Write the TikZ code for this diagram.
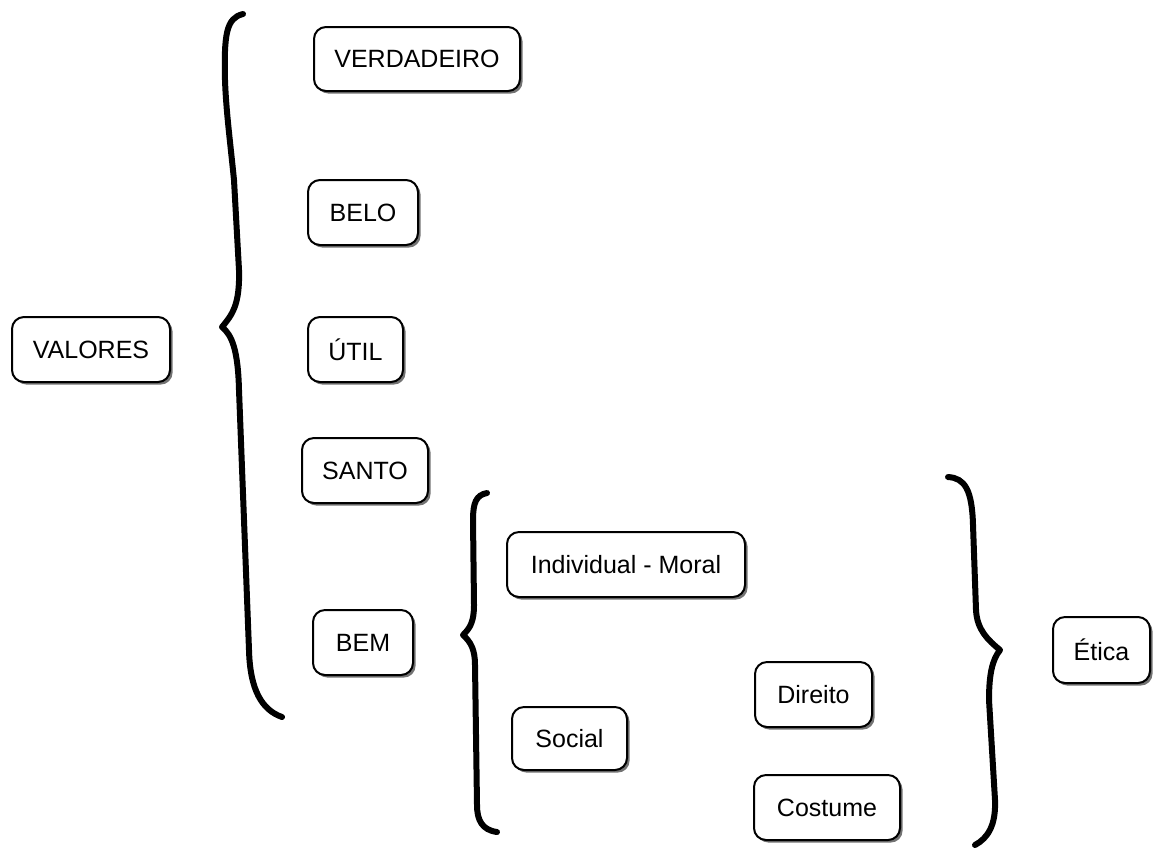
\documentclass[tikz,border=0pt]{standalone}
\usepackage{fontspec}
\setmainfont{Liberation Sans}
\usetikzlibrary{shadows}
\begin{document}
\begin{tikzpicture}[x=0.5pt,y=-0.5pt,
  box/.style={draw=black, line width=1pt, rounded corners=6pt, fill=white,
    inner sep=0pt, font=\fontsize{12.5}{15}\selectfont,
    drop shadow={shadow xshift=1.3pt, shadow yshift=-1.3pt, fill=black, opacity=0.55}},
  brace/.style={line width=3pt, line cap=round, line join=round}]
\useasboundingbox[fill=white] (0,0) rectangle (1155,848);

\node[box, minimum width=79pt, minimum height=32.5pt] (valores) at (91,349.5) {VALORES};
\node[box, minimum width=103pt, minimum height=32pt] (verdadeiro) at (417,59) {VERDADEIRO};
\node[box, minimum width=55pt, minimum height=32.5pt] (belo) at (363,212.5) {BELO};
\node[box, minimum width=47.5pt, minimum height=32.5pt] (util) at (355.5,349.5) {ÚTIL};
\node[box, minimum width=63pt, minimum height=32.5pt] (santo) at (365,470.5) {SANTO};
\node[box, minimum width=50pt, minimum height=32.5pt] (bem) at (363,642.5) {BEM};
\node[box, minimum width=119pt, minimum height=32.5pt] (individual) at (626,564.5) {Individual - Moral};
\node[box, minimum width=57.5pt, minimum height=31.5pt] (social) at (569.5,738.5) {Social};
\node[box, minimum width=58.5pt, minimum height=32.5pt] (direito) at (813.5,694.5) {Direito};
\node[box, minimum width=73pt, minimum height=32.5pt] (costume) at (827,807.5) {Costume};
\node[box, minimum width=48.5pt, minimum height=33pt] (etica) at (1101.5,650) {Ética};

% big left brace
\draw[brace] (243,14) .. controls (226,18) and (224,35) .. (225,80)
  .. controls (226,110) and (230,140) .. (234,180)
  -- (239,270)
  .. controls (240,305) and (232,315) .. (222,327)
  .. controls (232,335) and (238,350) .. (239,390)
  -- (249,650)
  .. controls (250,690) and (262,710) .. (282,717);

% middle brace
\draw[brace] (487,493) .. controls (476,495) and (473,503) .. (473,520)
  -- (474,605)
  .. controls (474,622) and (470,628) .. (463,635)
  .. controls (471,642) and (475,650) .. (475,665)
  -- (477,805)
  .. controls (477,820) and (482,830) .. (497,832);

% right brace
\draw[brace] (948,477) .. controls (965,478) and (972,490) .. (973,525)
  -- (976,610)
  .. controls (977,630) and (988,640) .. (1000,650)
  .. controls (992,660) and (989,675) .. (989,700)
  -- (995,800)
  .. controls (996,825) and (988,838) .. (975,845);
\end{tikzpicture}
\end{document}
